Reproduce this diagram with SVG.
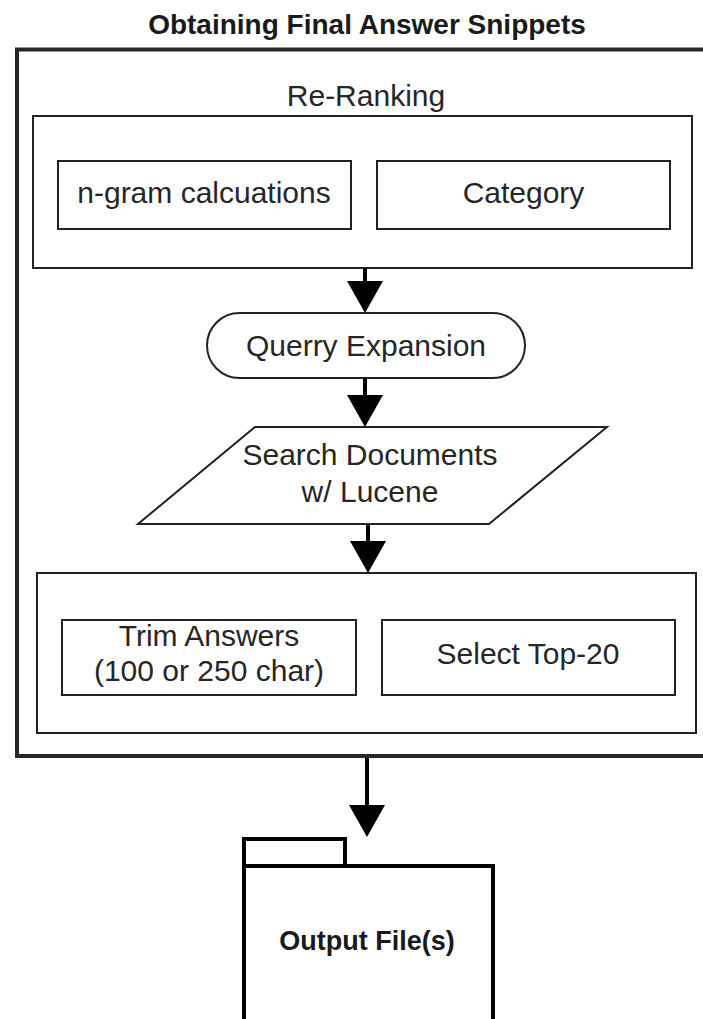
<svg xmlns="http://www.w3.org/2000/svg" width="703" height="1019" viewBox="0 0 703 1019">
  <style>
    .lbl { font-family: "Liberation Sans", Arial, sans-serif; font-size: 30px; fill: #262626; text-anchor: middle; }
    .bold { font-family: "Liberation Sans", Arial, sans-serif; font-weight: bold; fill: #1a1a1a; text-anchor: middle; }
    .box { fill: #ffffff; stroke: #222222; stroke-width: 2; }
    .frame { fill: #ffffff; stroke: #262626; stroke-width: 4; }
    .edge { fill: none; stroke: #000000; stroke-width: 4; }
  </style>
  <defs>
    <marker id="arrow" viewBox="0 0 32 36" markerWidth="32" markerHeight="36" refX="12" refY="18" orient="auto" markerUnits="userSpaceOnUse">
      <path d="M0,0 L32,18 L0,36 Z" fill="#000000"/>
    </marker>
  </defs>

  <rect width="703" height="1019" fill="#ffffff"/>

  <!-- outer process frame -->
  <g id="frame-main">
    <text class="bold" x="367" y="34" font-size="28">Obtaining Final Answer Snippets</text>
    <rect class="frame" x="17" y="49.5" width="700" height="706.5"/>
  </g>

  <!-- re-ranking group -->
  <g id="re-ranking">
    <text class="lbl" x="366" y="106">Re-Ranking</text>
    <rect class="box" x="33" y="116" width="659" height="152"/>
  </g>
  <g id="ngram">
    <rect class="box" x="58" y="161" width="293" height="68"/>
    <text class="lbl" x="204" y="203">n-gram calcuations</text>
  </g>
  <g id="category">
    <rect class="box" x="377" y="161" width="293" height="68"/>
    <text class="lbl" x="523.5" y="203">Category</text>
  </g>

  <g id="query-expansion">
    <rect class="box" x="207" y="313" width="318" height="65" rx="32.5" ry="32.5"/>
    <text class="lbl" x="366" y="356">Querry Expansion</text>
  </g>

  <g id="search-documents">
    <polygon class="box" points="255,427 607,427 489,524 138,524"/>
    <text class="lbl" x="370" y="465">Search Documents</text>
    <text class="lbl" x="370" y="502">w/ Lucene</text>
  </g>

  <!-- answer post-processing group -->
  <g id="post-process">
    <rect class="box" x="37" y="573" width="659" height="160"/>
  </g>
  <g id="trim-answers">
    <rect class="box" x="62" y="620" width="294" height="75"/>
    <text class="lbl" x="209" y="646">Trim Answers</text>
    <text class="lbl" x="209" y="681">(100 or 250 char)</text>
  </g>
  <g id="select-top">
    <rect class="box" x="382" y="620" width="293" height="75"/>
    <text class="lbl" x="528" y="664">Select Top-20</text>
  </g>

  <g id="output-files">
    <rect x="244" y="839" width="101" height="27" fill="#ffffff" stroke="#000000" stroke-width="4"/>
    <path d="M244,1030 V866 H493 V1030" fill="#ffffff" stroke="#000000" stroke-width="4"/>
    <text class="bold" x="367" y="950" font-size="27">Output File(s)</text>
  </g>

  <g id="connectors">
    <path class="edge" d="M365,268 V293" marker-end="url(#arrow)"/>
    <path class="edge" d="M365,378 V407" marker-end="url(#arrow)"/>
    <path class="edge" d="M368,524 V553" marker-end="url(#arrow)"/>
    <path class="edge" d="M367,758 V817" marker-end="url(#arrow)"/>
  </g>
</svg>
